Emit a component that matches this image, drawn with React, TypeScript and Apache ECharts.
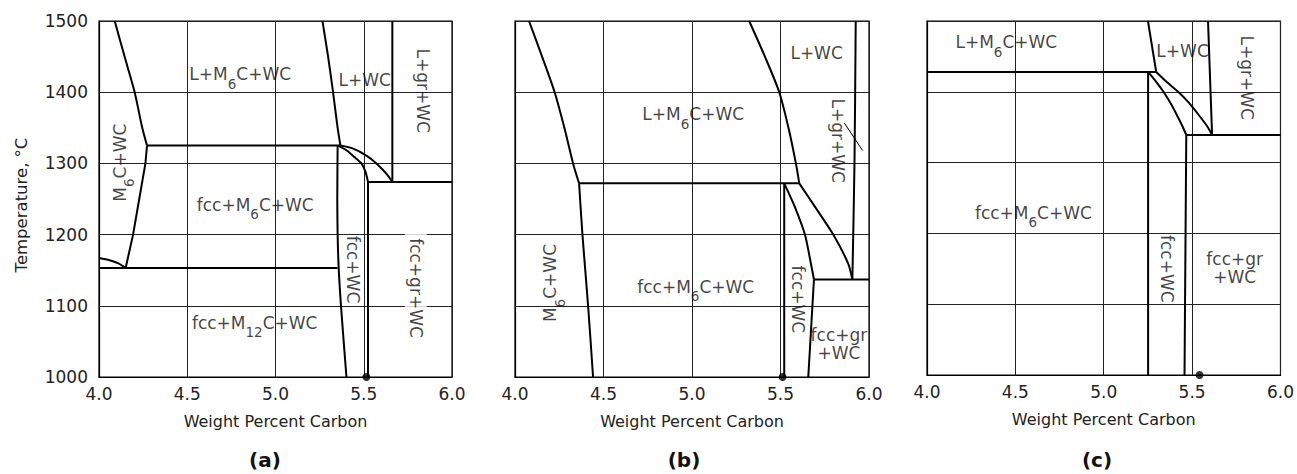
import React, { useEffect, useRef } from "react";
import * as echarts from "echarts";

const FONT = "'DejaVu Sans', 'Liberation Sans', sans-serif";

// ---- axes / titles ----
const xTicks = [4.0, 4.5, 5.0, 5.5, 6.0];
const yTicks = [1000, 1100, 1200, 1300, 1400, 1500];
const panelTitles = ["(a)", "(b)", "(c)"];
const xAxisName = "Weight Percent Carbon";
const yAxisName = "Temperature, °C";

// ---- panel (a) boundaries [wt% C, °C] ----
const aLiqLeft = [[4.089, 1500], [4.145, 1450], [4.202, 1400], [4.245, 1350], [4.272, 1325]];
const aSolLeft = [[4.272, 1325], [4.263, 1300], [4.228, 1250], [4.193, 1200], [4.151, 1153]];
const aArcLow = [[4.0, 1167], [4.06, 1164], [4.11, 1159.5], [4.151, 1153]];
const aEut1153 = [[4.0, 1153], [5.352, 1153]];
const aEut1325 = [[4.272, 1325], [5.368, 1325]];
const aLiqRight = [[5.266, 1500], [5.298, 1450], [5.326, 1400], [5.352, 1350], [5.368, 1325]];
const aFccWc = [[5.352, 1325], [5.35, 1250], [5.352, 1200], [5.358, 1153], [5.371, 1100], [5.402, 1000]];
const aArcOuter = [[5.368, 1325], [5.44, 1320.8], [5.515, 1311], [5.572, 1300], [5.628, 1285.6], [5.662, 1274]];
const aArcInner = [[5.355, 1325], [5.402, 1318.4], [5.447, 1309], [5.487, 1300], [5.51, 1288], [5.524, 1274]];
const aGrLiq = [[5.662, 1274], [5.662, 1500]];
const aEut1274 = [[5.524, 1274], [6.0, 1274]];
const aVert = [[5.524, 1274], [5.524, 1000]];
const aDot = [[5.515, 1000]];

// ---- panel (b) ----
const bLiqLeft = [[4.079, 1500], [4.153, 1450], [4.224, 1400], [4.279, 1350], [4.328, 1300], [4.362, 1272]];
const bSolLeft = [[4.362, 1272], [4.381, 1200], [4.413, 1100], [4.441, 1000]];
const bEut1272 = [[4.362, 1272], [5.606, 1272]];
const bLiqRight = [[5.323, 1500], [5.412, 1450], [5.493, 1400], [5.545, 1350], [5.587, 1300], [5.606, 1272]];
const bVert = [[5.521, 1272], [5.521, 1000]];
const bFccWc = [[5.521, 1272], [5.581, 1239], [5.638, 1200], [5.672, 1159], [5.689, 1137]];
const bFccLow = [[5.689, 1137], [5.657, 1000]];
const bArcOuter = [[5.606, 1272], [5.695, 1239], [5.798, 1200], [5.883, 1159], [5.906, 1137]];
const bGrLiq = [[5.906, 1137], [5.918, 1300], [5.925, 1500]];
const bEut1137 = [[5.689, 1137], [6.0, 1137]];
const bLeader = [[5.86, 1357], [5.964, 1318]];
const bDot = [[5.512, 1000]];

// ---- panel (c) ----
const cEut1428 = [[4.0, 1428], [5.297, 1428]];
const cLiq = [[5.25, 1500], [5.297, 1428]];
const cFccWc = [[5.251, 1428], [5.251, 1000]];
const cArcInner = [[5.251, 1428], [5.3, 1413], [5.338, 1400], [5.38, 1383], [5.41, 1369], [5.448, 1350], [5.467, 1339]];
const cArcOuter = [[5.297, 1428], [5.36, 1413], [5.421, 1400], [5.48, 1385], [5.532, 1369], [5.589, 1350], [5.613, 1339]];
const cGrLiq = [[5.613, 1339], [5.59, 1500]];
const cEut1339 = [[5.467, 1339], [6.0, 1339]];
const cVert = [[5.467, 1339], [5.457, 1000]];
const cDot = [[5.542, 1000]];

// ---- phase-field labels ("_6" = subscript) ----
const aLabels = [
  { t: "L+M_6C+WC", x: 4.8, y: 1425 },
  { t: "L+WC", x: 5.505, y: 1417 },
  { t: "L+gr+WC", x: 5.838, y: 1402, r: -90 },
  { t: "M_6C+WC", x: 4.117, y: 1301, r: 90 },
  { t: "fcc+M_6C+WC", x: 4.885, y: 1242 },
  { t: "fcc+WC", x: 5.439, y: 1151, r: -90 },
  { t: "fcc+gr+WC", x: 5.795, y: 1125, r: -90, bg: true },
  { t: "fcc+M_12C+WC", x: 4.882, y: 1076.5 },
];
const bLabels = [
  { t: "L+WC", x: 5.704, y: 1455 },
  { t: "L+M_6C+WC", x: 5.007, y: 1369 },
  { t: "L+gr+WC", x: 5.827, y: 1332, r: -90 },
  { t: "M_6C+WC", x: 4.2, y: 1132, r: 90 },
  { t: "fcc+M_6C+WC", x: 5.021, y: 1127 },
  { t: "fcc+WC", x: 5.6, y: 1109, r: -90 },
  { t: "fcc+gr\n+WC", x: 5.83, y: 1046 },
];
const cLabels = [
  { t: "L+M_6C+WC", x: 4.449, y: 1470 },
  { t: "L+WC", x: 5.446, y: 1458 },
  { t: "L+gr+WC", x: 5.808, y: 1420, r: -90 },
  { t: "fcc+M_6C+WC", x: 4.602, y: 1229 },
  { t: "fcc+WC", x: 5.358, y: 1150, r: -90 },
  { t: "fcc+gr\n+WC", x: 5.741, y: 1151 },
];

const panels = [
  {
    curves: [aLiqLeft, aArcLow, aLiqRight, aFccWc, aArcOuter, aArcInner],
    straight: [aSolLeft, aEut1153, aEut1325, aGrLiq, aEut1274, aVert],
    thin: [],
    dots: aDot,
    labels: aLabels,
  },
  {
    curves: [bLiqLeft, bSolLeft, bLiqRight, bFccWc, bArcOuter, bGrLiq],
    straight: [bEut1272, bVert, bFccLow, bEut1137],
    thin: [bLeader],
    dots: bDot,
    labels: bLabels,
  },
  {
    curves: [cArcInner, cArcOuter],
    straight: [cEut1428, cLiq, cFccWc, cGrLiq, cEut1339, cVert],
    thin: [],
    dots: cDot,
    labels: cLabels,
  },
];

const gridBoxes = [
  { left: 99, top: 21, width: 353, height: 356 },
  { left: 515, top: 21, width: 354, height: 356 },
  { left: 927, top: 21, width: 354, height: 354 },
];
const titlePos = [
  [265, 460],
  [684, 460],
  [1097, 460],
];

const TXT = "#111";
const RICH = {
  n: { fontFamily: FONT, fontSize: 17, color: TXT, lineHeight: 18 },
  s: { fontFamily: FONT, fontSize: 13.5, color: TXT, padding: [19, 0, 0, 0] },
};

function toRich(text: string): string {
  return text
    .split("\n")
    .map((line) =>
      line
        .split(/_(\d+)/)
        .map((p, i) => (p === "" ? "" : i % 2 ? `{s|${p}}` : `{n|${p}}`))
        .join("")
    )
    .join("\n");
}

function buildOption() {
  const xMin = xTicks[0];
  const xMax = xTicks[xTicks.length - 1];
  const yMin = yTicks[0];
  const yMax = yTicks[yTicks.length - 1];
  const grid = gridBoxes.map((g) => ({
    ...g,
    show: true,
    borderColor: "#000",
    borderWidth: 1.2,
    backgroundColor: "#fff",
    containLabel: false,
  }));
  const xAxis = panels.map((_, i) => ({
    gridIndex: i,
    type: "value",
    min: xMin,
    max: xMax,
    interval: xTicks[1] - xTicks[0],
    axisTick: { show: false },
    axisLine: { show: true, lineStyle: { color: "#000", width: 1.2 } },
    splitLine: { show: true, lineStyle: { color: "#222", width: 1 } },
    axisLabel: {
      fontFamily: FONT,
      fontSize: 17,
      color: "#222",
      margin: 8,
      formatter: (v: number) => v.toFixed(1),
    },
    name: xAxisName,
    nameLocation: "middle",
    nameGap: 36,
    nameTextStyle: { fontFamily: FONT, fontSize: 16, color: "#222" },
  }));
  const yAxis = panels.map((_, i) => ({
    gridIndex: i,
    type: "value",
    min: yMin,
    max: yMax,
    interval: yTicks[1] - yTicks[0],
    axisTick: { show: false },
    axisLine: { show: true, lineStyle: { color: "#000", width: 1.2 } },
    splitLine: { show: true, lineStyle: { color: "#222", width: 1 } },
    axisLabel: {
      show: i === 0,
      fontFamily: FONT,
      fontSize: 17,
      color: "#222",
      margin: 11,
      formatter: (v: number) => String(v),
    },
    name: i === 0 ? yAxisName : "",
    nameLocation: "middle",
    nameGap: 69,
    nameRotate: 90,
    nameTextStyle: { fontFamily: FONT, fontSize: 16.5, color: "#222", padding: [0, 12, 0, 0] },
  }));

  const series: any[] = [];
  panels.forEach((p, i) => {
    const mk = (d: number[][], width: number, smooth: number | boolean) => ({
      type: "line",
      xAxisIndex: i,
      yAxisIndex: i,
      data: d,
      symbol: "none",
      showSymbol: false,
      smooth,
      silent: true,
      z: 3,
      lineStyle: { color: "#000", width },
    });
    p.curves.forEach((d) => series.push(mk(d, 2, 0.25)));
    p.straight.forEach((d) => series.push(mk(d, 2, false)));
    p.thin.forEach((d) => series.push(mk(d, 1, false)));
    series.push({
      type: "scatter",
      xAxisIndex: i,
      yAxisIndex: i,
      data: p.dots,
      symbol: "circle",
      symbolSize: 8,
      silent: true,
      clip: false,
      z: 6,
      itemStyle: { color: "#000" },
    });
    series.push({
      type: "scatter",
      xAxisIndex: i,
      yAxisIndex: i,
      symbolSize: 1,
      silent: true,
      z: 5,
      itemStyle: { color: "rgba(0,0,0,0)" },
      data: p.labels.map((l: any) => ({
        value: [l.x, l.y],
        label: {
          show: true,
          position: "inside",
          rotate: l.r || 0,
          align: "center",
          verticalAlign: "middle",
          formatter: toRich(l.t),
          rich: RICH,
          backgroundColor: l.bg ? "#fff" : "transparent",
          padding: l.bg ? [2, 6] : 0,
        },
      })),
    });
  });

  const graphic = panelTitles.map((t, i) => ({
    type: "text",
    x: titlePos[i][0],
    y: titlePos[i][1],
    style: {
      text: t,
      fill: "#111",
      font: `bold 20px ${FONT}`,
      textAlign: "center",
      textVerticalAlign: "middle",
    },
  }));

  return {
    animation: false,
    backgroundColor: "#fff",
    grid,
    xAxis,
    yAxis,
    series,
    graphic,
  };
}

export default function App() {
  const ref = useRef<HTMLDivElement>(null);
  useEffect(() => {
    if (!ref.current) return;
    const chart = echarts.init(ref.current, null, { renderer: "svg" });
    chart.setOption(buildOption() as any);
    return () => chart.dispose();
  }, []);
  return (
    <div
      ref={ref}
      style={{ position: "absolute", left: 0, top: 0, width: 1297, height: 474 }}
    />
  );
}
